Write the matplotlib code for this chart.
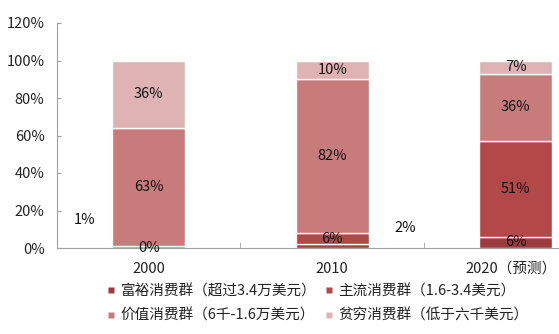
import numpy as np
import matplotlib
matplotlib.use("Agg")
import matplotlib.pyplot as plt
from matplotlib.lines import Line2D
from matplotlib.transforms import ScaledTranslation

plt.rcParams['font.family'] = ['Noto Sans CJK SC', 'DejaVu Sans']

years = ["2000", "2010", "2020（预测）"]
series_names = ["富裕消费群（超过3.4万美元）", "主流消费群（1.6-3.4美元）",
                "价值消费群（6千-1.6万美元）", "贫穷消费群（低于六千美元）"]
rich = [0, 2, 6]
mainstream = [1, 6, 51]
value = [63, 82, 36]
poor = [36, 10, 7]
colors = ["#9c3b3b", "#b24848", "#c87b7b", "#dfb3b3"]

# labels Excel pushed off to the side of their (too thin) segments
offset_labels = {(1, 0): (-0.35, 15), (0, 1): (0.40, 10.7)}


def stacked_bar_chart(export_path: str = "out.png") -> None:
    fig = plt.figure(figsize=(5.59, 3.34), dpi=100)
    ax = fig.add_axes([57 / 559, 86 / 334, 550.5 / 559, 225 / 334])
    x = np.arange(len(years))
    bottom = np.zeros(len(years))
    stacks = [rich, mainstream, value, poor]
    for s, (vals, c) in enumerate(zip(stacks, colors)):
        vals = np.array(vals, dtype=float)
        ax.bar(x, vals, width=0.4, bottom=bottom, color=c,
               edgecolor="white", linewidth=1.0, zorder=3)
        for i, v in enumerate(vals):
            label = f"{int(v)}%"
            if (s, i) in offset_labels:
                dx, ly = offset_labels[(s, i)]
                ax.text(i + dx, ly, label, ha="center", va="center",
                        fontsize=10.5, color="#111111")
            else:
                ax.text(i, bottom[i] + v / 2, label, ha="center",
                        va="center", fontsize=10.5, color="#111111", zorder=4)
        bottom += vals

    ax.set_xlim(-0.5, 2.5)
    ax.set_ylim(0, 120)
    ax.set_yticks(np.arange(0, 121, 20))
    ax.set_yticklabels([f"{t}%" for t in range(0, 121, 20)])
    ax.set_xticks(x)
    ax.set_xticklabels(years)
    ax.set_xticks([0.5, 1.5], minor=True)
    ax.tick_params(axis="x", which="major", length=0, pad=10,
                   labelsize=10.5, labelcolor="#222222")
    ax.tick_params(axis="x", which="minor", direction="in", length=4,
                   color="#a0a0a0")
    ax.tick_params(axis="y", direction="in", length=3, pad=9,
                   labelsize=10.5, labelcolor="#222222", color="#a0a0a0")
    # keep the last category label inside the figure
    last = ax.get_xticklabels()[-1]
    last.set_transform(last.get_transform()
                       + ScaledTranslation(-5 / 100, 0, fig.dpi_scale_trans))
    for side in ("top", "right"):
        ax.spines[side].set_visible(False)
    for side in ("left", "bottom"):
        ax.spines[side].set_color("#a0a0a0")

    # legend is filled column by column, so order it to read row by row
    order = [0, 2, 1, 3]
    handles = [Line2D([], [], ls="none", marker="s", markersize=5,
                      markerfacecolor=colors[k], markeredgecolor="none")
               for k in order]
    fig.legend(handles, [series_names[k] for k in order], ncol=2,
               loc="upper left", bbox_to_anchor=(99 / 559, 1 - 277 / 334),
               frameon=False, fontsize=10.5, handlelength=0.7,
               handletextpad=0.3, columnspacing=0.5, labelspacing=0.7,
               borderpad=0, labelcolor="#222222")
    fig.savefig(export_path, dpi=100)


if __name__ == "__main__":
    stacked_bar_chart()
